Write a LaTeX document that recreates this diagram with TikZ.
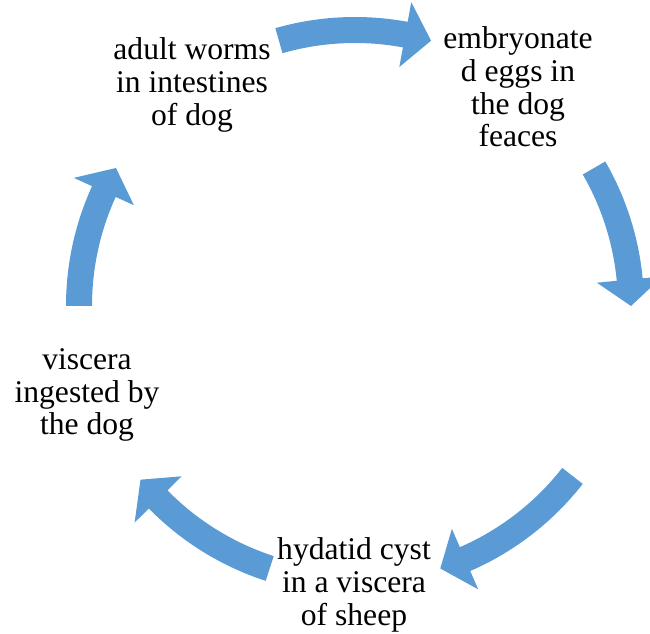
\documentclass[tikz,border=0pt]{standalone}
\usepackage{fontspec}
\setmainfont{LiberationSerif}[Extension=.ttf, UprightFont=*-Regular, BoldFont=*-Bold]
\usetikzlibrary{calc}
\definecolor{cycblue}{RGB}{91,155,213}
\tikzset{
  stage/.style={align=center, inner sep=0pt, font=\rmfamily\fontsize{23.7}{24.5}\selectfont},
}
% curved block arrow round (c): #1 = tail angle, #2 = tip angle
\newcommand{\cycarrow}[2]{%
  \fill[cycblue] ($(c)+(#1:289)$) arc[start angle=#1, end angle=#2+5.5, radius=289]
    -- ($(c)+(#2+5.5:309)$) -- ($(c)+(#2:276)$) -- ($(c)+(#2+5.5:243)$)
    -- ($(c)+(#2+5.5:263)$) arc[start angle=#2+5.5, end angle=#1, radius=263] -- cycle;}
\begin{document}
\begin{tikzpicture}[x=0.75pt, y=0.75pt]
    \useasboundingbox (0,0) rectangle (650,634);
    \coordinate (c) at (355,328);

    % stages of the cycle
    \node[stage] (adult) at (192,549) {adult worms\\in intestines\\of dog};
    \node[stage] (eggs) at (518,547) {embryonate\\d eggs in\\the dog\\feaces};
    \node[stage] (cyst) at (354,49) {hydatid cyst\\in a viscera\\of sheep};
    \node[stage] (viscera) at (87,239) {viscera\\ingested by\\the dog};

    % arrows between the stages
    \cycarrow{106}{74}
    \cycarrow{30}{0}
    \cycarrow{-38}{-72}
    \cycarrow{-108}{-141}
    \cycarrow{180}{150}
\end{tikzpicture}
\end{document}
